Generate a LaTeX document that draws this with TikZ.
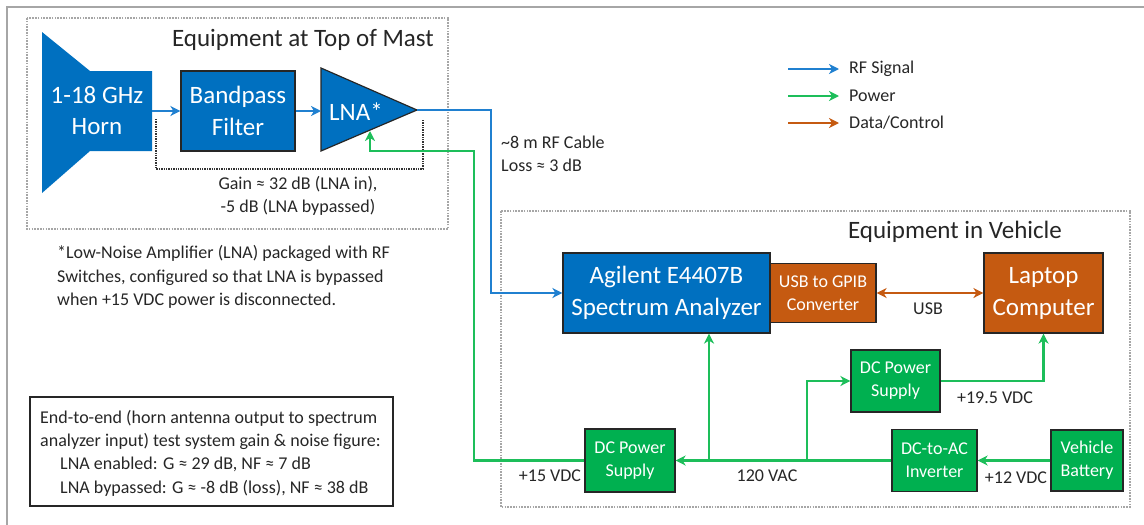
\documentclass[tikz,border=0pt]{standalone}
\usepackage{fontspec}
\setmainfont{Carlito}
\usetikzlibrary{arrows.meta,calc}
\definecolor{boxblue}{HTML}{0070C0}
\definecolor{boxgreen}{HTML}{00B050}
\definecolor{boxorange}{HTML}{C55A11}
\definecolor{rfline}{HTML}{2080D0}
\definecolor{pwrline}{HTML}{1DBE5A}
\definecolor{txt}{HTML}{262626}
\definecolor{frame}{HTML}{A6A6A6}
\tikzset{
  x=1pt, y=-1pt,
  tip/.style={-{Stealth[length=10pt,width=10pt,inset=3pt]}},
  bigbox/.style={draw=black!85, line width=1.2pt, inner sep=0pt, align=center, text=white,
     font=\fontsize{25}{32}\selectfont},
  smallbox/.style={draw=black!85, line width=1.2pt, inner sep=0pt, align=center, text=white,
     font=\fontsize{18}{23}\selectfont},
  lbl/.style={text=txt, inner sep=0pt, font=\fontsize{18}{23.5}\selectfont},
  ttl/.style={text=txt, inner sep=0pt, font=\fontsize{25}{30}\selectfont},
  rf/.style={draw=rfline, line width=2pt},
  pwr/.style={draw=pwrline, line width=2.2pt},
  dat/.style={draw=boxorange, line width=2.2pt},
  container/.style={draw=gray!70, line width=1.6pt, dash pattern=on 1.6pt off 1.2pt},
  bypass/.style={draw=black!80, line width=1.6pt, dash pattern=on 1.4pt off 1pt},
}
\begin{document}
\begin{tikzpicture}
\useasboundingbox (0,0) rectangle (1144,525);
% frame edges
\draw[frame, line width=2pt] (7,525) -- (7,7) -- (1144,7);

% containers
\draw[container] (27,18) rectangle (448,229);
\draw[container] (501,211) rectangle (1130,507);
\node[ttl] (ttlmast) at (303,40) {Equipment at Top of Mast};
\node[ttl] (ttlveh) at (955,232) {Equipment in Vehicle};

% horn
\fill[boxblue] (42,32) -- (90,71) -- (152,71) -- (152,151) -- (90,151) -- (42,193) -- cycle;
\node[inner sep=0pt, minimum width=110pt, minimum height=80pt, align=center, text=white,
      font=\fontsize{25}{31}\selectfont] (horn) at (97,111) {1-18 GHz\\Horn};
% bandpass
\node[bigbox, fill=boxblue, minimum width=114pt, minimum height=80pt] (bpf) at (238,111) {Bandpass\\Filter};
% LNA
\filldraw[fill=boxblue, draw=black!85, line width=1.2pt] (321,68) -- (417,110) -- (321,151) -- cycle;
\node[inner sep=0pt, text=white, font=\fontsize{25}{30}\selectfont] (lna) at (356,112) {LNA*};
\coordinate (lnain) at (321,111);
\coordinate (lnatip) at (417,110);
\coordinate (lnapwr) at (370,131);

% bypass bracket
\draw[bypass] (156,119) |- (423,169) -- (423,119);
\node[lbl, align=center] (gain) at (298,196) {Gain ≈ 32 dB (LNA in),\\-5 dB (LNA bypassed)};

% footnote
\node[lbl, align=left, anchor=west] (foot) at (57,277)
  {*Low-Noise Amplifier (LNA) packaged with RF\\Switches, configured so that LNA is bypassed\\when +15 VDC power is disconnected.};

% end-to-end box
\node[draw=black!85, line width=1.2pt, minimum width=363pt, minimum height=109pt, inner sep=0pt] (e2e) at (211.5,451.5) {};
\node[lbl, align=left, anchor=west, font=\fontsize{18}{23.3}\selectfont] (e2etxt) at (40,453)
  {End-to-end (horn antenna output to spectrum\\analyzer input) test system gain \& noise figure:\\
   \hspace*{20pt}LNA enabled: G ≈ 29 dB, NF ≈ 7 dB\\
   \hspace*{20pt}LNA bypassed: G ≈ -8 dB (loss), NF ≈ 38 dB};

% legend
\coordinate (lg1a) at (788,69); \coordinate (lg1b) at (839,69);
\coordinate (lg2a) at (788,96); \coordinate (lg2b) at (839,96);
\coordinate (lg3a) at (788,123); \coordinate (lg3b) at (839,123);
\draw[rf, tip] (lg1a) -- (lg1b);
\draw[pwr, tip] (lg2a) -- (lg2b);
\draw[dat, tip] (lg3a) -- (lg3b);
\node[lbl, anchor=west] (lgrf) at (849,69) {RF Signal};
\node[lbl, anchor=west] (lgpwr) at (849,96) {Power};
\node[lbl, anchor=west] (lgdat) at (849,123) {Data/Control};

% cable label
\node[lbl, align=left, anchor=west] (cable) at (501,154) {\textasciitilde 8 m RF Cable\\Loss ≈ 3 dB};

% vehicle equipment
\node[bigbox, fill=boxblue, minimum width=207pt, minimum height=80pt] (sa) at (666.5,293) {Agilent E4407B\\Spectrum Analyzer};
\node[smallbox, fill=boxorange, minimum width=106pt, minimum height=59pt] (gpib) at (823,293) {USB to GPIB\\Converter};
\node[bigbox, fill=boxorange, minimum width=119pt, minimum height=80pt] (laptop) at (1043.5,293) {Laptop\\Computer};
\node[smallbox, fill=boxgreen, minimum width=89pt, minimum height=62pt] (dcps2) at (895.5,381) {DC Power\\Supply};
\node[smallbox, fill=boxgreen, minimum width=90pt, minimum height=63pt] (dcps1) at (630,460.5) {DC Power\\Supply};
\node[smallbox, fill=boxgreen, minimum width=85pt, minimum height=62pt] (inv) at (934.5,460.5) {DC-to-AC\\Inverter};
\node[smallbox, fill=boxgreen, minimum width=72pt, minimum height=61pt] (batt) at (1087,460.5) {Vehicle\\Battery};

% RF connectors
\draw[rf, tip] (horn.east) -- (bpf.west);
\draw[rf, tip] (bpf.east) -- (lnain);
\draw[rf, tip] (lnatip) -- (491,110) |- (sa.west);

% data
\draw[dat, {Stealth[length=10pt,width=10pt,inset=3pt]}-{Stealth[length=10pt,width=10pt,inset=3pt]}] (gpib.east) -- (laptop.west);
\node[lbl] (usb) at (928,309) {USB};

% power
\coordinate (j1) at (709,460.5);
\coordinate (j2) at (807,460.5);
\draw[pwr, tip] (batt.west) -- (inv.east);
\draw[pwr, tip] (inv.west) -- (dcps1.east);
\draw[pwr, tip] (j1) -- (j1 |- sa.south);
\draw[pwr, tip] (j2) |- (dcps2.west);
\draw[pwr, tip] (dcps2.east) -| (laptop.south);
\draw[pwr, tip] (dcps1.west) -- (474,460.5) -- (474,151) -| (lnapwr);

\node[lbl] (v15) at (550,476) {+15 VDC};
\node[lbl] (v120) at (767,476) {120 VAC};
\node[lbl] (v195) at (995,398) {+19.5 VDC};
\node[lbl] (v12) at (1016,478) {+12 VDC};
\end{tikzpicture}
\end{document}
